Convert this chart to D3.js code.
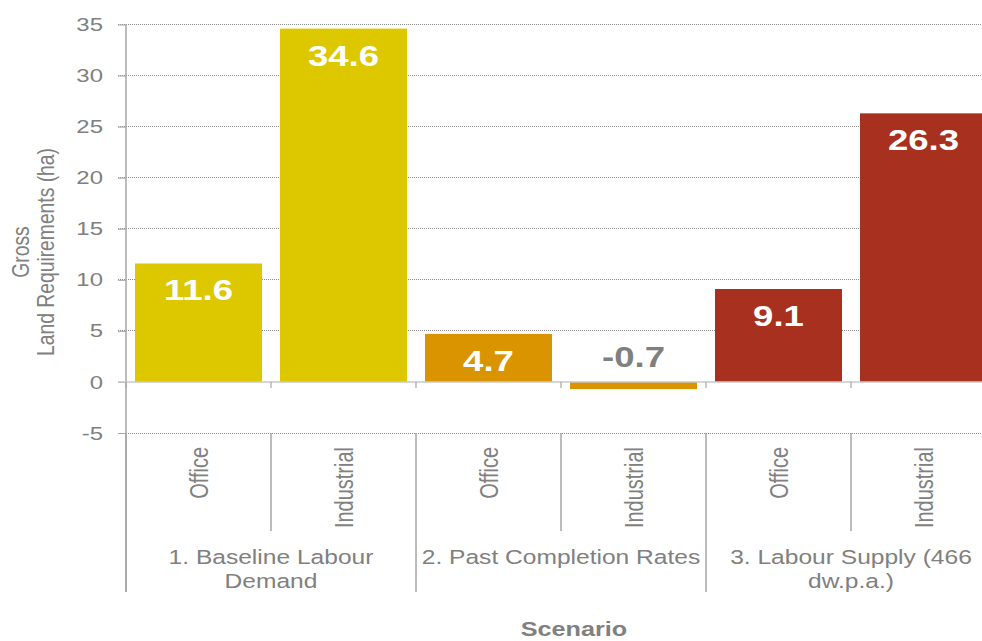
<!DOCTYPE html>
<html>
<head>
<meta charset="utf-8">
<script src="https://cdn.jsdelivr.net/npm/d3@7"></script>
<style>
  html, body { margin: 0; padding: 0; background: #fff; }
  svg { display: block; font-family: "Liberation Sans", Arial, sans-serif; }
</style>
</head>
<body>
<svg id="chart" width="982" height="641"></svg>
<script>
// Gross land requirements by scenario and use class
const scenarios = ["1. Baseline Labour Demand", "2. Past Completion Rates", "3. Labour Supply (466 dw.p.a.)"];
const scenarioLines = [["1. Baseline Labour", "Demand"], ["2. Past Completion Rates"], ["3. Labour Supply (466", "dw.p.a.)"]];
const uses = ["Office", "Industrial"];
const officeValues = [11.6, 4.7, 9.1];
const industrialValues = [34.6, -0.7, 26.3];
const scenarioColors = ["#DDC800", "#D99400", "#A8301F"];
const yTicks = [-5, 0, 5, 10, 15, 20, 25, 30, 35];

const rows = [];
scenarios.forEach((s, i) => {
  uses.forEach(u => {
    const v = u === "Office" ? officeValues[i] : industrialValues[i];
    rows.push({ key: s + "|" + u, scenario: i, use: u, value: v });
  });
});

const svg = d3.select("#chart");
const plotLeft = 126, plotRight = 996, plotTop = 24.5, plotBottom = 433;
const grey = "#808080", lineGrey = "#a6a6a6";
const wide = 1.26; // horizontal text stretch

const y = d3.scaleLinear().domain([-5, 35]).range([plotBottom, plotTop]);
const x = d3.scaleBand().domain(rows.map(d => d.key)).range([plotLeft, plotRight]).paddingInner(0.124).paddingOuter(0.062);
const xGroup = d3.scaleBand().domain(scenarios).range([plotLeft, plotRight]);

// dotted gridlines
svg.append("g").selectAll("line").data(yTicks.filter(t => t !== 0)).join("line")
  .attr("x1", plotLeft - 8).attr("x2", plotRight)
  .attr("y1", d => y(d)).attr("y2", d => y(d))
  .attr("stroke", "#8a8a8a").attr("stroke-width", 1).attr("stroke-dasharray", "1,1")
  .attr("shape-rendering", "crispEdges");

// y axis
const yAxis = d3.axisLeft(y).tickValues(yTicks).tickSize(8).tickFormat(d => String(d));
const yg = svg.append("g").attr("transform", `translate(${plotLeft},0)`).call(yAxis);
yg.select(".domain").remove();
yg.selectAll(".tick line").attr("stroke", lineGrey);
yg.selectAll(".tick text")
  .attr("x", 0).attr("transform", `translate(-23,0) scale(${wide},1)`)
  .attr("fill", grey).attr("font-size", 19)
  .attr("font-family", "'Liberation Sans', Arial, sans-serif");
svg.append("line").attr("x1", plotLeft).attr("x2", plotLeft).attr("y1", plotTop).attr("y2", 592)
  .attr("stroke", lineGrey).attr("stroke-width", 1.5);

// bars
svg.append("g").selectAll("rect").data(rows).join("rect")
  .attr("x", d => x(d.key)).attr("width", x.bandwidth())
  .attr("y", d => y(Math.max(0, d.value)))
  .attr("height", d => Math.abs(y(d.value) - y(0)))
  .attr("fill", d => scenarioColors[d.scenario]);

// zero line and small ticks between bars
svg.append("line").attr("x1", plotLeft - 8).attr("x2", plotRight).attr("y1", y(0)).attr("y2", y(0))
  .attr("stroke", "#c8c8c8").attr("stroke-width", 1.5);
const boundaries = d3.range(rows.length + 1).map(i => plotLeft + i * xGroup.bandwidth() / 2);
svg.append("g").selectAll("line").data(boundaries).join("line")
  .attr("x1", d => d).attr("x2", d => d).attr("y1", y(0)).attr("y2", y(0) + 6)
  .attr("stroke", lineGrey).attr("stroke-width", 1.2);

// value labels
svg.append("g").selectAll("text").data(rows).join("text")
  .attr("transform", d => {
    const cx = x(d.key) + x.bandwidth() / 2;
    const cy = d.value >= 0 ? y(d.value) + 37 : y(0) - 15;
    return `translate(${cx},${cy}) scale(${wide},1)`;
  })
  .attr("text-anchor", "middle")
  .attr("font-size", 29).attr("font-weight", "bold")
  .attr("fill", d => d.value >= 0 ? "#ffffff" : grey)
  .text(d => d.value.toFixed(1));

// category separators below the plot
svg.append("g").selectAll("line").data(boundaries).join("line")
  .attr("x1", d => d).attr("x2", d => d)
  .attr("y1", y(-5)).attr("y2", (d, i) => i % 2 === 0 ? 592 : 531)
  .attr("stroke", lineGrey).attr("stroke-width", 1.5);

// use-class labels (rotated)
svg.append("g").selectAll("text").data(rows).join("text")
  .attr("transform", d => `translate(${x(d.key) + x.bandwidth() / 2 + 9},447) scale(${wide},1) rotate(-90)`)
  .attr("text-anchor", "end")
  .attr("font-size", 20).attr("fill", grey)
  .text(d => d.use);

// scenario labels
svg.append("g").selectAll("text").data(scenarios).join("text")
  .attr("transform", d => `translate(${xGroup(d) + xGroup.bandwidth() / 2},564) scale(${wide},1)`)
  .attr("text-anchor", "middle")
  .attr("font-size", 19.5).attr("fill", grey)
  .each(function(d, i) {
    const t = d3.select(this);
    scenarioLines[i].forEach((ln, j) => {
      t.append("tspan").attr("x", 0).attr("dy", j === 0 ? 0 : 24).text(ln);
    });
  });

// axis titles
svg.append("text").attr("transform", `translate(574,636) scale(${wide},1)`).attr("text-anchor", "middle")
  .attr("font-size", 20).attr("font-weight", "bold").attr("fill", grey).text("Scenario");
const yt = svg.append("text").attr("transform", `translate(29,252) scale(${wide},1) rotate(-90)`)
  .attr("text-anchor", "middle").attr("font-size", 19.3).attr("fill", grey);
yt.append("tspan").attr("x", 0).attr("dy", 0).text("Gross");
yt.append("tspan").attr("x", 0).attr("dy", 20).text("Land Requirements (ha)");
</script>
</body>
</html>
